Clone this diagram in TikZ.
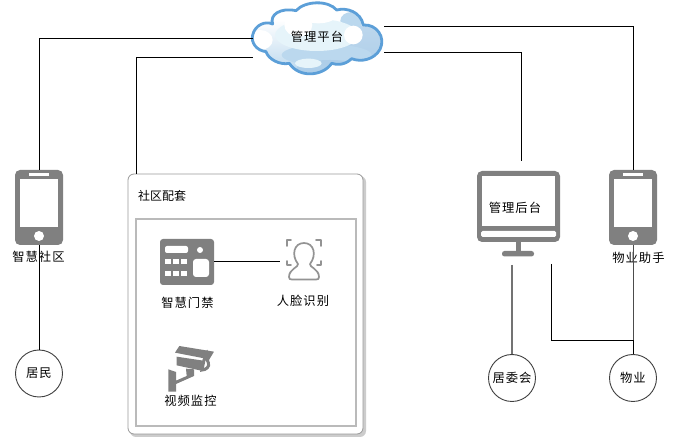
\documentclass[tikz,border=0pt]{standalone}
\usepackage{fontspec}
\setmainfont[LetterSpace=8]{Noto Sans CJK SC}
\newfontfamily\tightcjk{Noto Sans CJK SC}
\definecolor{icongray}{HTML}{808080}
\definecolor{cloudedge}{HTML}{5C9FD8}
\definecolor{cloudmid}{HTML}{BBD8EE}
\definecolor{clouddeep}{HTML}{A9CBE8}
\definecolor{cloudpale}{HTML}{E6F4FA}
\tikzset{
  phonebox/.style={rectangle,inner sep=0pt,minimum width=48pt,minimum height=75pt},
  hidebox/.style={rectangle,inner sep=0pt},
  lbl/.style={inner sep=0pt,font=\fontsize{12.3pt}{14pt}\selectfont},
  circ/.style={circle,draw=black!75,line width=0.9pt,fill=white,inner sep=0pt,minimum size=47pt,font=\fontsize{12.3pt}{14pt}\selectfont},
  wire/.style={draw=black,line width=0.9pt},
  iconfill/.style={fill=icongray,draw=none},
  facestroke/.style={draw=icongray!85,line width=1.7pt,line cap=round,line join=round,fill=none}
}
\newcommand{\phoneicon}[2]{%
  \fill[icongray,rounded corners=5pt] (#1-24,#2-37.5) rectangle (#1+24,#2+37.5);
  \fill[white] (#1-19,#2-28.5) rectangle (#1+19,#2+19.5);
  \fill[white] (#1-10,#2-34.5) rectangle (#1+10,#2-31.5);
  \fill[white] (#1,#2+28.5) circle (5pt);
}
\newcommand{\cloudpath}{(68,105) .. controls (75,75) and (105,62) .. (128,72)
  .. controls (118,45) and (150,22) .. (198,32)
  .. controls (225,2) and (295,0) .. (320,30)
  .. controls (350,22) and (392,35) .. (400,75)
  .. controls (440,72) and (468,112) .. (450,148)
  .. controls (432,180) and (392,187) .. (365,176)
  .. controls (345,195) and (322,196) .. (305,190)
  .. controls (280,228) and (208,236) .. (178,190)
  .. controls (150,196) and (115,178) .. (108,155)
  .. controls (80,152) and (62,128) .. (68,105) -- cycle}
\begin{document}
\begin{tikzpicture}[x=1pt,y=-1pt]
\useasboundingbox (0,0) rectangle (673,438);
\fill[white] (0,0) rectangle (673,438);

% container
\fill[black!20,rounded corners=6pt] (130,176) rectangle (366,437);
\draw[black!40,fill=white,line width=0.8pt,rounded corners=6pt] (128,174) rectangle (363,434);
\node[hidebox,minimum width=220pt,minimum height=207pt,draw=black!27,line width=1.1pt] (inner) at (246,322.5) {};
\coordinate (groupTop) at (136,174);
\node[lbl,font=\tightcjk\fontsize{12pt}{14pt}\selectfont] (grouptext) at (162,196) {社区配套};

% cloud
\begin{scope}[shift={(230,0)},scale=1/3]
  \fill[white] \cloudpath;
  \begin{scope}
    \clip \cloudpath;
    \shade[top color=white,bottom color=cloudmid] (60,60) rectangle (470,215);
    \fill[clouddeep,opacity=.75] (405,125) ellipse (55 and 50);
    \fill[cloudmid] (290,165) ellipse (135 and 32);
    \fill[clouddeep,opacity=.7] (300,205) ellipse (100 and 25);
    \fill[cloudmid] (365,62) ellipse (34 and 26);
    \fill[white] (90,120) ellipse (38 and 30);
    \fill[cloudpale] (260,105) ellipse (125 and 48);
    \fill[white] (205,75) ellipse (42 and 35);
    \fill[white] (370,105) ellipse (28 and 28);
    \fill[white] (265,45) ellipse (55 and 25);
    \fill[cloudpale] (235,190) ellipse (40 and 14);
  \end{scope}
  \draw[cloudedge,line width=2.8pt,line join=round] \cloudpath;
\end{scope}
\node[lbl] (cloud) at (317,37) {管理平台};
\coordinate (cloudA) at (253,38);
\coordinate (cloudB) at (253,57);
\coordinate (cloudC) at (384,26);
\coordinate (cloudD) at (384,52);

% phones
\phoneicon{39}{207.5}
\phoneicon{633}{207.5}
\node[phonebox] (phoneL) at (39,207.5) {};
\node[phonebox] (phoneR) at (633,207.5) {};
\node[lbl] (phoneLtext) at (38.5,257) {智慧社区};
\node[lbl] (phoneRtext) at (638.5,258) {物业助手};

% monitor
\fill[icongray,rounded corners=5pt] (477,171) rectangle (560,242);
\fill[white] (482,176) rectangle (555,226);
\fill[white,rounded corners=1.5pt] (481,231) rectangle (556,237);
\fill[icongray] (516,242) rectangle (521,252);
\fill[icongray,rounded corners=2.5pt] (502,251) rectangle (534,256.5);
\node[hidebox,minimum width=83pt,minimum height=86pt] (monitor) at (518.5,214) {};
\node[lbl] (monitortext) at (515,208) {管理后台};
\coordinate (monitorTop) at (521,161);
\coordinate (monitorA) at (512,265);
\coordinate (monitorB) at (551,264);

% door control icon
\fill[icongray,rounded corners=3pt] (160,239) rectangle (214,285);
\fill[white,rounded corners=2pt] (165,246) rectangle (188,253);
\fill[white] (200,250) circle (3pt);
\foreach \xa in {165,173,181}{\foreach \ya in {259,271}{\fill[white] (\xa,\ya) rectangle ++(6,5.5);}}
\fill[white,rounded corners=3pt] (193,259) rectangle (209,277);
\node[hidebox,minimum width=54pt,minimum height=46pt] (door) at (187,261.5) {};
\node[lbl] (doortext) at (187.5,302.5) {智慧门禁};

% face icon
\draw[facestroke] (291,240) -- (287,240) -- (287,246);
\draw[facestroke] (316,240) -- (321,240) -- (321,246);
\draw[facestroke] (287,261) -- (287,265) -- (291,265);
\draw[facestroke] (321,261) -- (321,265) -- (317,265);
\draw[facestroke] (298,264) .. controls (291,255) and (294,243) .. (304,243)
  .. controls (314,243) and (317,255) .. (310,264)
  .. controls (309,267) and (319,269) .. (319,277)
  .. controls (319,279) and (318,279.5) .. (316,279.5) -- (292,279.5)
  .. controls (290,279.5) and (289,279) .. (289,277)
  .. controls (289,269) and (299,267) .. (298,264) -- cycle;
\node[hidebox,minimum width=42pt,minimum height=42pt] (face) at (301,261.5) {};
\node[lbl] (facetext) at (303,301) {人脸识别};

% camera icon
\begin{scope}[shift={(120,310)},scale=1/3]
  \fill[icongray] (145,178) -- (168,186) -- (168,212) -- (200,198) -- (198,176) -- (222,178) -- (222,198) -- (168,222) -- (168,245) -- (145,245) -- cycle;
  \fill[icongray] (165,128) -- (178,108) -- (282,125) -- (268,148) -- cycle;
  \fill[icongray] (170,140) -- (250,152) -- (244,182) -- (170,166) -- cycle;
  \draw[icongray,line width=3pt,fill=white] (262,128) .. controls (275,135) and (255,150) .. (265,158) .. controls (270,170) and (258,180) .. (246,180) -- (252,150) -- cycle;
\end{scope}
\node[hidebox,minimum width=46pt,minimum height=46pt] (camera) at (191,356) {};
\node[lbl] (cameratext) at (190.5,401) {视频监控};

% people
\node[circ] (resident) at (39,373.5) {居民};
\node[circ] (committee) at (512,378) {居委会};
\node[circ] (property) at (633,378) {物业};

% connectors
\draw[wire] (phoneL.north) |- (cloudA);
\draw[wire] (groupTop) |- (cloudB);
\draw[wire] (phoneR.north) |- (cloudC);
\draw[wire] (monitorTop) |- (cloudD);
\draw[wire] (phoneL.south) -- (resident.north);
\draw[draw=black!55,line width=1.8pt] (monitorA) -- (committee.north);
\draw[wire,draw=black!70] (phoneR.south) -- (property.north);
\draw[wire] (monitorB) |- (property.north |- 0,340) -- (property.north);
\draw[wire] (door.east) -- (face.west);
\end{tikzpicture}
\end{document}
